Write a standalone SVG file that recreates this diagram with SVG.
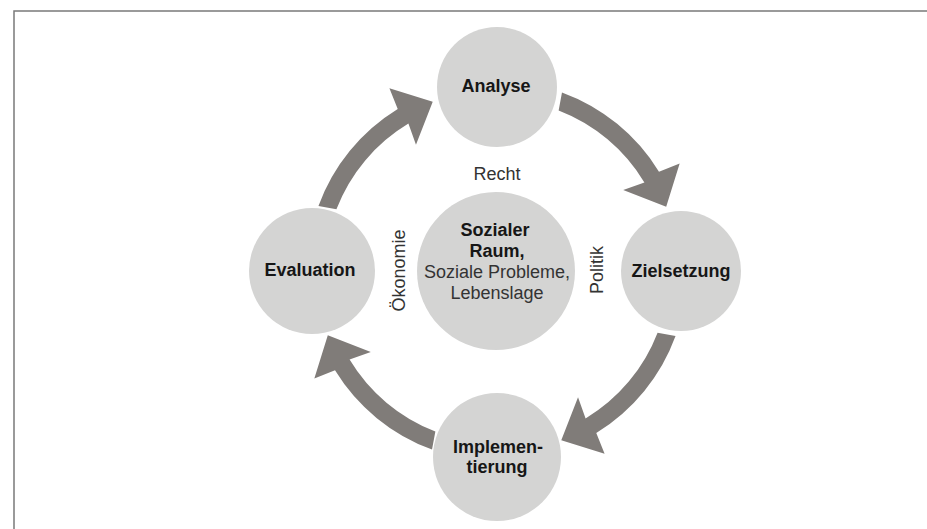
<svg xmlns="http://www.w3.org/2000/svg" width="927" height="529" viewBox="0 0 927 529">
  <defs>
    <style>
      .node { fill: #d4d4d3; }
      .arrow { fill: #807c79; }
      .frame { fill: none; stroke: #7a7a7a; stroke-width: 1.5; }
      .label { font-family: "Liberation Sans", Arial, sans-serif; font-size: 18px; text-anchor: middle; }
      .bold { font-weight: bold; fill: #161616; }
      .plain { fill: #333333; }
    </style>
    <!-- one curved block arrow, drawn between the top and right node, rotated for the others -->
    <path id="cycle-arrow" d="M 561.98 92.46 A 190 190 0 0 1 658.99 171.72 L 679.66 163.41 L 666.2 206.73 L 623.2 189.97 L 644.4 182.41 A 172 172 0 0 0 558.64 110.42 Z"/>
  </defs>

  <rect width="927" height="529" fill="#ffffff"/>
  <path class="frame" d="M 14 529 L 14 11 L 927 11"/>

  <g id="connectors">
    <use href="#cycle-arrow" class="arrow"/>
    <use href="#cycle-arrow" class="arrow" transform="rotate(90 497 271)"/>
    <use href="#cycle-arrow" class="arrow" transform="rotate(180 497 271)"/>
    <use href="#cycle-arrow" class="arrow" transform="rotate(270 497 271)"/>
  </g>

  <g id="analyse">
    <circle class="node" cx="497" cy="87" r="60"/>
    <text class="label bold" x="496" y="92">Analyse</text>
  </g>

  <g id="zielsetzung">
    <circle class="node" cx="681" cy="271" r="60"/>
    <text class="label bold" x="681" y="277">Zielsetzung</text>
  </g>

  <g id="implementierung">
    <circle class="node" cx="497" cy="457" r="64"/>
    <text class="label bold" x="498" y="453">Implemen-</text>
    <text class="label bold" x="497" y="473">tierung</text>
  </g>

  <g id="evaluation">
    <circle class="node" cx="312" cy="271" r="63"/>
    <text class="label bold" x="310" y="276">Evaluation</text>
  </g>

  <g id="sozialer-raum">
    <circle class="node" cx="496" cy="271" r="79"/>
    <text class="label bold" x="495" y="236">Sozialer</text>
    <text class="label bold" x="497" y="257">Raum,</text>
    <text class="label plain" x="497" y="278">Soziale Probleme,</text>
    <text class="label plain" x="497" y="299">Lebenslage</text>
  </g>

  <g id="context-labels">
    <text class="label plain" x="497" y="180">Recht</text>
    <text class="label plain" transform="translate(405 270.5) rotate(-90)">Ökonomie</text>
    <text class="label plain" transform="translate(603 270) rotate(-90)">Politik</text>
  </g>
</svg>
